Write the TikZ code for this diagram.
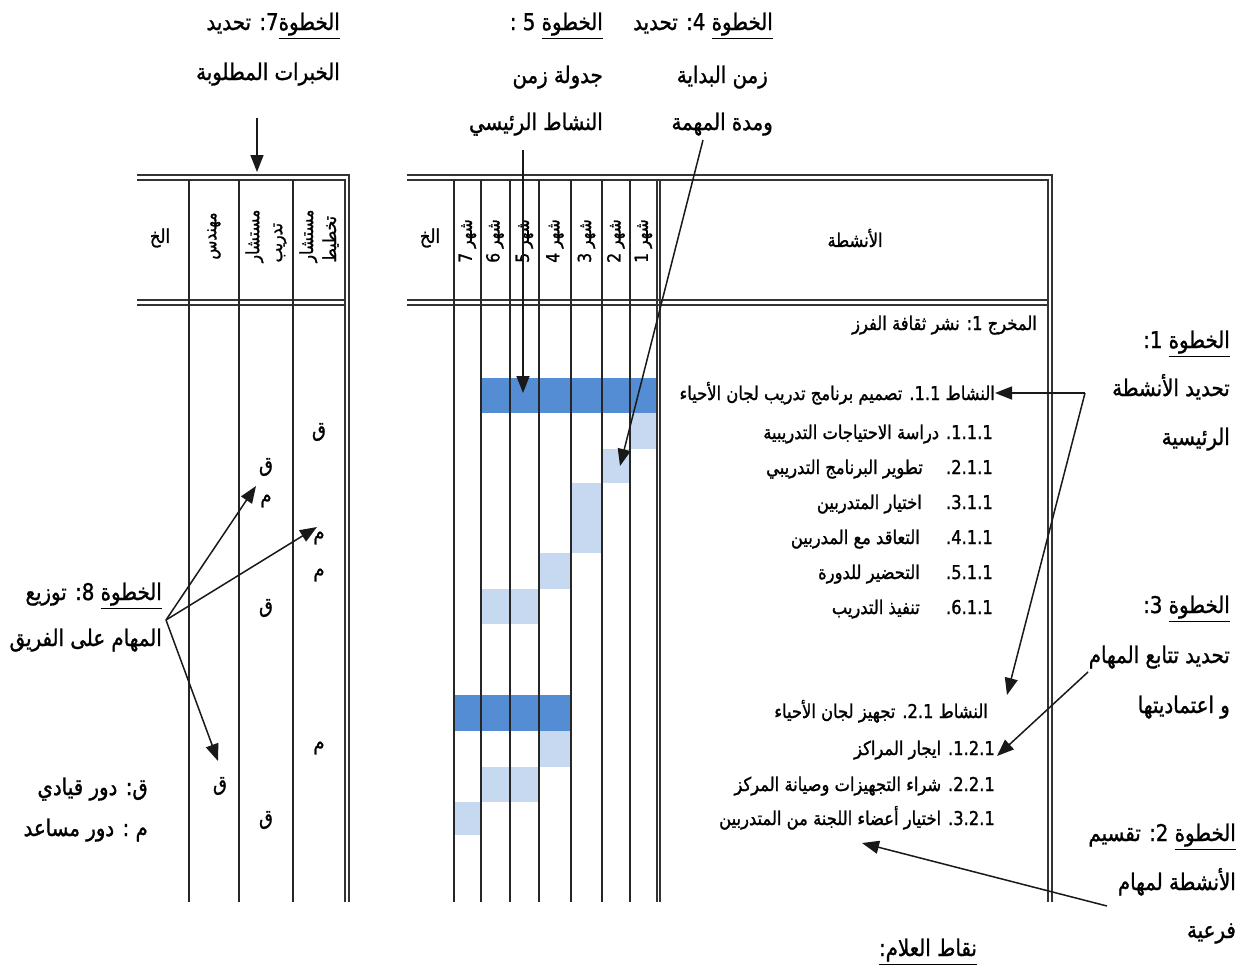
\documentclass[tikz,border=0pt]{standalone}
\usepackage{fontspec}
\usetikzlibrary{arrows.meta}
\TeXXeTstate=1
\newfontfamily\arabicfont[Script=Arabic,FakeStretch=0.86,FakeBold=1.2]{DejaVu Sans}
\newcommand{\AR}[1]{\beginR #1\endR}
\newcommand{\LT}[1]{\beginL #1\endL}
\newcommand{\UL}[1]{\vtop{\hbox{\beginR #1\endR}\kern2pt\hrule height 1.4pt}}
\definecolor{barDark}{RGB}{84,141,212}
\definecolor{barLight}{RGB}{198,217,241}
\begin{document}
\begin{tikzpicture}[x=1pt,y=-1pt,
  every node/.style={inner sep=0pt},
  steptxt/.style={anchor=base east, font=\arabicfont\fontsize{23}{26}\selectfont},
  acttxt/.style={anchor=base east, font=\arabicfont\fontsize{19}{22}\selectfont},
  hdr/.style={rotate=90, align=left, font=\arabicfont\fontsize{18}{23}\selectfont},
  hdrflat/.style={font=\arabicfont\fontsize{19}{22}\selectfont},
  role/.style={font=\arabicfont\fontsize{21}{22}\selectfont},
  gline/.style={line width=1.5pt, draw=black!85},
  dbl/.style={line width=1.2pt, draw=black!80},
  darkbar/.style={fill=barDark},
  lightbar/.style={fill=barLight},
  arr/.style={line width=1.5pt, draw=black!90, -{Triangle[length=17pt,width=13pt]}}]
\useasboundingbox (0,0) rectangle (1242,978);
\fill[white] (0,0) rectangle (1242,978);

% ---- Gantt bars
\fill[darkbar]  (481,378) rectangle (657,413);
\fill[lightbar] (630,413) rectangle (657,449);
\fill[lightbar] (602,449) rectangle (630,483);
\fill[lightbar] (571,483) rectangle (602,553);
\fill[lightbar] (539,553) rectangle (571,589);
\fill[lightbar] (481,589) rectangle (539,624);
\fill[darkbar]  (454,695) rectangle (571,731);
\fill[lightbar] (539,731) rectangle (571,767);
\fill[lightbar] (481,767) rectangle (539,802);
\fill[lightbar] (454,802) rectangle (481,835);

% ---- main table frame
\draw[dbl] (407,175) -- (1052,175) -- (1052,902);
\draw[dbl] (407,180) -- (1048,180) -- (1048,902);
\draw[dbl] (407,300) -- (1048,300);
\draw[dbl] (407,305) -- (1048,305);
\foreach \x in {454,481,510,539,571,602,630}
  \draw[gline] (\x,180) -- (\x,902);
\draw[dbl] (657,180) -- (657,902);
\draw[dbl] (660,180) -- (660,902);

% ---- left table frame
\draw[dbl] (137,175) -- (349,175) -- (349,902);
\draw[dbl] (137,180) -- (345,180) -- (345,902);
\draw[dbl] (137,300) -- (345,300);
\draw[dbl] (137,305) -- (345,305);
\foreach \x in {189,239,293}
  \draw[gline] (\x,180) -- (\x,902);

% ---- main table header
\node[hdrflat] (hAct) at (855,238) {\AR{الأنشطة}};
\node[hdrflat] (hEtc) at (430,238) {\AR{الخ}};
\node[hdr] (m1) at (643.5,241) {\AR{شهر \LT{1}}};
\node[hdr] (m2) at (616,241) {\AR{شهر \LT{2}}};
\node[hdr] (m3) at (586.5,241) {\AR{شهر \LT{3}}};
\node[hdr] (m4) at (555,241) {\AR{شهر \LT{4}}};
\node[hdr] (m5) at (524.5,241) {\AR{شهر \LT{5}}};
\node[hdr] (m6) at (495,241) {\AR{شهر \LT{6}}};
\node[hdr] (m7) at (467.5,241) {\AR{شهر \LT{7}}};

% ---- left table header
\node[hdr] (rPlan) at (319,236) {\AR{مستشار}\\\AR{تخطيط}};
\node[hdr] (rTrain) at (266,236) {\AR{مستشار}\\\AR{تدريب}};
\node[hdr] (rEng) at (214,236) {\AR{مهندس}};
\node[hdrflat] (rEtc) at (160,238) {\AR{الخ}};

% ---- roles
\node[role] (q1) at (319,432) {\AR{ق}};
\node[role] (q2) at (266,467) {\AR{ق}};
\node[role] (m1r) at (266,501) {\AR{م}};
\node[role] (m2r) at (319,538) {\AR{م}};
\node[role] (m3r) at (319,575) {\AR{م}};
\node[role] (q3) at (266,608) {\AR{ق}};
\node[role] (m4r) at (319,748) {\AR{م}};
\node[role] (q4) at (220,786) {\AR{ق}};
\node[role] (q5) at (266,820) {\AR{ق}};

% ---- activities
\node[acttxt] (out1) at (1037,330) {\AR{المخرج \LT{1}: نشر ثقافة الفرز}};
\node[acttxt] (a11) at (995,400) {\AR{النشاط \LT{1.1}. تصميم برنامج تدريب لجان الأحياء}};
\node[acttxt] (t111) at (993,439) {\AR{\LT{1.1.1}. دراسة الاحتياجات التدريبية}};
\node[acttxt] (n211) at (993,474) {\AR{\LT{2.1.1}.}};
\node[acttxt] (t211) at (923,474) {\AR{تطوير البرنامج التدريبي}};
\node[acttxt] (n311) at (993,509) {\AR{\LT{3.1.1}.}};
\node[acttxt] (t311) at (922,509) {\AR{اختيار المتدربين}};
\node[acttxt] (n411) at (993,544) {\AR{\LT{4.1.1}.}};
\node[acttxt] (t411) at (920,544) {\AR{التعاقد مع المدربين}};
\node[acttxt] (n511) at (993,579) {\AR{\LT{5.1.1}.}};
\node[acttxt] (t511) at (920,579) {\AR{التحضير للدورة}};
\node[acttxt] (n611) at (993,614) {\AR{\LT{6.1.1}.}};
\node[acttxt] (t611) at (920,614) {\AR{تنفيذ التدريب}};
\node[acttxt] (a21) at (988,718) {\AR{النشاط \LT{2.1}. تجهيز لجان الأحياء}};
\node[acttxt] (t121) at (995,755) {\AR{\LT{1.2.1}. ايجار المراكز}};
\node[acttxt] (t221) at (995,791) {\AR{\LT{2.2.1}. شراء التجهيزات وصيانة المركز}};
\node[acttxt] (t321) at (995,825) {\AR{\LT{3.2.1}. اختيار أعضاء اللجنة من المتدربين}};

% ---- step labels
\node[steptxt] (s7a) at (340,30) {\AR{\UL{الخطوة}\LT{7}:  تحديد}};
\node[steptxt] (s7b) at (340,80) {\AR{الخبرات المطلوبة}};
\node[steptxt] (s5a) at (603,30) {\AR{\UL{الخطوة} \LT{5} :}};
\node[steptxt] (s5b) at (603,83) {\AR{جدولة زمن}};
\node[steptxt] (s5c) at (603,130) {\AR{النشاط الرئيسي}};
\node[steptxt] (s4a) at (773,30) {\AR{\UL{الخطوة} \LT{4}: تحديد}};
\node[steptxt] (s4b) at (768,83) {\AR{زمن البداية}};
\node[steptxt] (s4c) at (773,130) {\AR{ومدة المهمة}};
\node[steptxt] (s1a) at (1230,348) {\AR{\UL{الخطوة} \LT{1}:}};
\node[steptxt] (s1b) at (1230,396) {\AR{تحديد الأنشطة}};
\node[steptxt] (s1c) at (1230,445) {\AR{الرئيسية}};
\node[steptxt] (s3a) at (1230,613) {\AR{\UL{الخطوة} \LT{3}:}};
\node[steptxt] (s3b) at (1230,663) {\AR{تحديد تتابع المهام}};
\node[steptxt] (s3c) at (1230,713) {\AR{و اعتماديتها}};
\node[steptxt] (s2a) at (1236,841) {\AR{\UL{الخطوة} \LT{2}:  تقسيم}};
\node[steptxt] (s2b) at (1236,890) {\AR{الأنشطة لمهام}};
\node[steptxt] (s2c) at (1236,938) {\AR{فرعية}};
\node[steptxt] (s8a) at (162,600) {\AR{\UL{الخطوة} \LT{8}:  توزيع}};
\node[steptxt] (s8b) at (162,646) {\AR{المهام على الفريق}};
\node[steptxt] (lg1) at (148,795) {\AR{ق: دور  قيادي}};
\node[steptxt] (lg2) at (148,836) {\AR{م : دور مساعد}};
\node[steptxt,anchor=base] (keys) at (928,956) {\AR{\UL{نقاط العلام:}}};

% ---- arrows
\coordinate (s7o) at (257,118);  \coordinate (s7t) at (257,172);
\coordinate (s5o) at (523,150);  \coordinate (s5t) at (523,393);
\coordinate (s4o) at (703,140);  \coordinate (s4t) at (620,466);
\coordinate (s1o) at (1085,393); \coordinate (s1t) at (1007,695);
\coordinate (s3o) at (1088,672); \coordinate (s3t) at (997,756);
\coordinate (s2o) at (1107,906); \coordinate (s2t) at (862,843);
\coordinate (s8o) at (166,620);
\coordinate (s8t1) at (256,486); \coordinate (s8t2) at (317,527); \coordinate (s8t3) at (218,761);
\draw[arr] (s7o) -- (s7t);
\draw[arr] (s5o) -- (s5t);
\draw[arr] (s4o) -- (s4t);
\draw[arr] (s1o) -- (a11.east |- s1o);
\draw[arr] (s1o) -- (s1t);
\draw[arr] (s3o) -- (s3t);
\draw[arr] (s2o) -- (s2t);
\draw[arr] (s8o) -- (s8t1);
\draw[arr] (s8o) -- (s8t2);
\draw[arr] (s8o) -- (s8t3);
\end{tikzpicture}
\end{document}
